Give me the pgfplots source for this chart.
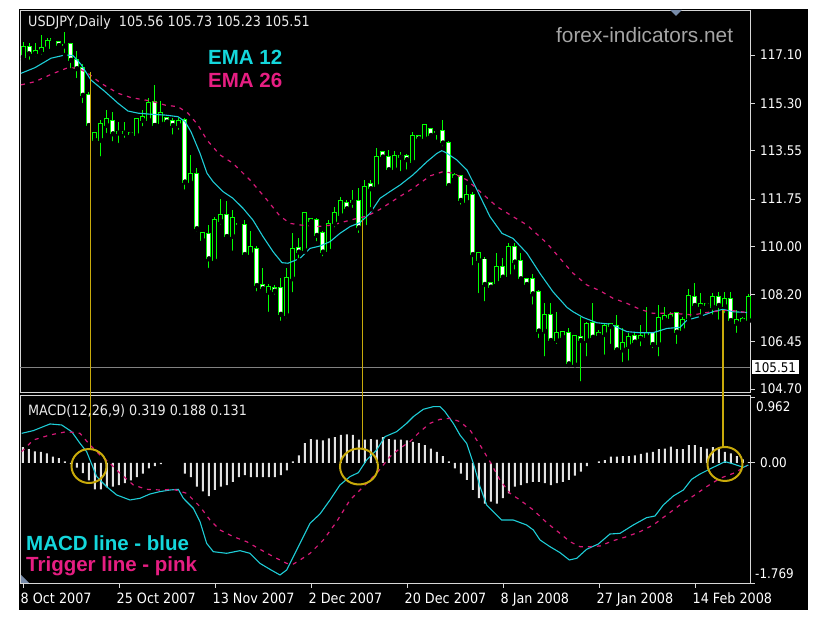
\documentclass[border=0pt]{standalone}
\usepackage{pgfplots}
\pgfplotsset{compat=1.18}
\usepackage{pgfplotstable}
\usepackage{fontspec}
\setmainfont{DejaVu Sans Condensed}
\newfontfamily\arialfont{Liberation Sans}
\newcommand\ticfont{\fontsize{13.3}{15}\selectfont}
\newcommand\capfont{\fontsize{14.2}{16}\selectfont}
\newcommand\bigfont{\arialfont\bfseries\fontsize{20.5}{24}\selectfont}

\definecolor{candle}{RGB}{0,255,0}
\definecolor{emacyan}{RGB}{30,205,215}
\definecolor{emapink}{RGB}{215,25,120}
\definecolor{txtcyan}{RGB}{20,215,220}
\definecolor{txtpink}{RGB}{230,30,130}
\definecolor{annot}{RGB}{200,170,10}
\definecolor{framegray}{RGB}{215,215,215}
\definecolor{histgray}{RGB}{225,225,225}
\definecolor{wmark}{RGB}{165,165,165}
\definecolor{pricegray}{RGB}{130,130,130}
\definecolor{markblue}{RGB}{120,140,170}

% daily candles: bar index, open, high, low, close
\pgfplotstableread{
i o h l c
0 117.04 117.60 116.92 117.41
1 117.41 117.53 116.85 117.16
2 117.16 117.53 116.98 117.25
3 117.25 117.84 117.04 117.35
4 117.35 117.72 117.22 117.62
5 117.67 117.70 117.66 117.68
6 117.57 117.59 117.45 117.47
7 117.45 117.97 117.10 117.47
8 117.51 117.53 116.54 116.92
9 116.92 117.25 116.17 116.61
10 116.63 116.75 115.24 115.62
11 115.62 115.74 114.44 114.50
12 113.95 114.22 113.93 114.19
13 113.95 114.69 113.26 114.53
14 114.50 115.06 114.13 114.72
15 114.65 115.00 113.82 114.19
16 114.22 114.63 113.76 114.24
17 114.24 114.63 113.95 114.22
18 114.22 114.25 114.07 114.16
19 114.13 114.77 114.07 114.72
20 114.69 115.06 114.38 114.81
21 114.69 115.52 114.63 115.31
22 115.37 115.99 114.50 114.50
23 114.56 115.39 114.38 114.94
24 114.75 114.81 114.56 114.63
25 114.65 114.77 114.07 114.50
26 114.50 114.75 114.25 114.65
27 114.69 114.75 112.03 112.40
28 112.37 113.39 112.21 112.67
29 112.67 112.89 110.48 110.67
30 110.23 110.54 110.17 110.48
31 110.46 110.79 109.12 109.55
32 109.47 111.10 109.43 110.98
33 110.94 111.74 110.73 111.16
34 111.16 111.69 110.23 110.38
35 110.38 111.35 109.76 111.06
36 110.82 110.88 110.78 110.84
37 110.79 110.97 109.55 109.71
38 109.71 110.58 109.55 109.96
39 109.89 110.01 108.25 108.56
40 108.56 109.18 108.28 108.44
41 108.31 108.60 107.49 108.50
42 108.46 108.56 108.13 108.35
43 108.44 108.83 107.16 107.49
44 107.45 109.18 107.26 108.83
45 108.81 110.50 108.22 109.89
46 109.92 110.30 109.49 109.80
47 109.86 111.25 109.80 111.22
48 111.00 111.04 110.77 110.94
49 110.98 111.04 110.11 110.42
50 110.48 110.58 109.55 109.80
51 109.84 110.97 109.76 110.83
52 110.85 111.44 110.63 111.22
53 111.16 111.82 111.04 111.69
54 111.62 111.72 111.35 111.41
55 111.65 112.09 111.35 111.69
56 111.69 112.15 110.42 110.70
57 110.73 112.46 110.63 112.21
58 112.31 112.46 111.37 112.15
59 112.24 113.63 112.21 113.30
60 113.51 113.54 113.28 113.33
61 113.30 113.57 112.81 112.86
62 112.86 113.55 112.71 113.35
63 113.32 113.51 112.71 113.34
64 113.35 113.42 112.77 113.23
65 113.14 114.25 113.02 114.09
66 114.11 114.13 113.99 114.01
67 114.01 114.54 113.97 114.50
68 114.34 114.38 114.09 114.13
69 114.24 114.32 113.88 114.26
70 114.29 114.69 113.64 113.85
71 113.85 113.92 112.24 112.27
72 112.65 112.71 112.52 112.58
73 112.61 112.65 111.47 111.72
74 111.65 112.27 111.62 111.90
75 111.90 112.03 109.22 109.71
76 109.49 109.80 108.19 109.74
77 109.51 109.61 107.88 108.60
78 108.62 108.68 108.47 108.50
79 108.65 109.74 108.56 109.24
80 109.22 109.55 108.81 108.87
81 108.90 110.13 108.81 109.96
82 109.96 110.13 109.06 109.43
83 109.46 109.74 108.75 108.81
84 108.77 108.81 108.57 108.60
85 108.77 108.97 107.76 108.25
86 108.31 108.38 106.52 106.87
87 106.87 107.88 105.84 107.45
88 107.45 107.88 106.46 106.52
89 106.52 107.57 106.30 106.79
90 106.64 106.86 106.61 106.83
91 106.79 106.95 105.59 105.65
92 105.62 106.71 105.59 106.67
93 106.64 107.39 104.91 106.52
94 106.52 107.20 105.84 107.11
95 107.14 107.91 106.58 106.64
96 106.71 106.89 106.67 106.79
97 106.74 107.14 105.90 107.04
98 107.04 107.16 106.30 107.11
99 107.04 107.45 106.00 106.17
100 106.17 106.95 105.63 106.40
101 106.30 106.77 105.68 106.62
102 106.67 106.79 106.37 106.46
103 106.58 107.08 106.21 106.67
104 106.64 107.73 106.62 106.77
105 106.79 106.83 106.15 106.37
106 106.37 107.82 105.84 107.33
107 107.29 107.73 107.14 107.41
108 107.33 107.57 107.29 107.45
109 107.51 107.54 106.30 106.83
110 106.89 107.39 106.77 107.26
111 107.33 108.40 107.29 108.15
112 108.13 108.62 107.76 107.82
113 107.78 108.28 107.39 107.86
114 107.86 107.88 107.70 107.82
115 107.76 108.28 107.39 108.13
116 108.10 108.31 107.20 107.82
117 107.78 108.31 107.45 108.03
118 108.03 108.31 107.08 107.26
119 107.16 107.63 106.71 107.26
120 107.24 107.39 107.20 107.29
121 107.26 108.23 107.24 108.13
}\candles

\pgfplotstableread{
x y
-0.33 116.42
2.0 116.63
4.67 116.98
7.0 117.10
8.33 117.08
9.67 116.75
11.33 116.17
13.67 115.74
15.83 115.31
17.5 115.02
19.17 114.94
21.33 114.90
23.67 114.87
25.83 114.81
27.0 114.63
28.0 114.25
29.5 113.45
30.67 112.71
31.67 112.40
33.33 112.03
35.0 111.78
36.67 111.41
38.33 110.97
40.0 110.36
41.67 109.80
43.17 109.39
44.17 109.37
46.17 109.55
47.83 109.92
49.5 110.01
51.17 110.17
52.83 110.48
54.5 110.73
56.17 110.88
57.83 111.22
59.5 111.78
61.17 112.03
62.83 112.27
65.0 112.65
67.33 113.14
69.0 113.45
69.83 113.55
70.67 113.45
72.33 113.20
74.0 112.83
75.67 112.09
77.83 111.10
79.83 110.48
81.67 110.29
84.0 109.74
86.17 108.99
88.33 108.31
90.67 107.73
91.67 107.57
93.33 107.36
95.67 107.16
97.83 107.11
100.67 106.83
102.83 106.79
105.0 106.79
107.33 106.95
109.5 106.99
110.67 107.26
112.83 107.39
115.0 107.57
116.67 107.66
118.33 107.57
120.67 107.54
}\emaA

\pgfplotstableread{
x y
-0.33 115.99
2.0 116.11
4.67 116.38
7.5 116.63
9.17 116.61
10.83 116.42
13.0 116.05
15.83 115.68
18.0 115.52
21.33 115.39
23.67 115.24
25.83 115.18
27.5 114.94
29.17 114.50
30.67 113.94
32.83 113.39
35.0 113.08
37.83 112.46
40.67 111.72
42.83 111.12
44.5 110.85
46.17 110.79
49.0 110.73
51.67 110.79
54.5 110.97
57.33 111.12
59.5 111.37
62.33 111.78
65.0 112.15
67.83 112.61
70.0 112.77
71.67 112.71
74.0 112.46
76.17 112.03
79.0 111.47
81.67 111.10
84.0 110.79
87.33 110.11
90.67 109.25
91.67 109.00
94.0 108.56
96.17 108.35
98.33 108.07
100.67 107.88
102.83 107.66
105.0 107.51
107.33 107.51
109.5 107.49
111.67 107.45
114.0 107.54
116.17 107.61
118.33 107.61
120.67 107.54
}\emaB

\pgfplotstableread{
i v
0 0.23
1 0.20
2 0.17
3 0.16
4 0.14
5 0.09
6 0.07
7 0.02
8 -0.02
9 -0.07
10 -0.15
11 -0.26
12 -0.39
13 -0.39
14 -0.36
15 -0.35
16 -0.33
17 -0.30
18 -0.26
19 -0.21
20 -0.16
21 -0.08
22 -0.05
23 -0.02
27 -0.16
28 -0.21
29 -0.35
30 -0.42
31 -0.49
32 -0.40
33 -0.35
34 -0.33
35 -0.28
36 -0.21
37 -0.18
38 -0.21
39 -0.21
40 -0.21
41 -0.21
42 -0.21
43 -0.18
44 -0.11
45 0.02
46 0.11
47 0.29
48 0.35
49 0.34
50 0.33
51 0.36
52 0.38
53 0.41
54 0.42
55 0.41
56 0.34
57 0.34
58 0.35
59 0.34
60 0.38
61 0.35
62 0.34
63 0.34
64 0.33
65 0.31
66 0.29
67 0.26
68 0.21
69 0.16
70 0.10
71 0.02
72 -0.08
73 -0.16
74 -0.25
75 -0.40
76 -0.52
77 -0.60
78 -0.57
79 -0.60
80 -0.52
81 -0.45
82 -0.35
83 -0.33
84 -0.30
85 -0.28
86 -0.28
87 -0.30
88 -0.33
89 -0.30
90 -0.28
91 -0.25
92 -0.19
93 -0.13
94 -0.05
96 0.02
97 0.04
98 0.09
99 0.09
100 0.10
101 0.10
102 0.11
103 0.13
104 0.15
105 0.16
106 0.20
107 0.21
108 0.24
109 0.20
110 0.20
111 0.26
112 0.26
113 0.23
114 0.21
115 0.23
116 0.20
117 0.16
118 0.14
119 0.10
120 0.05
121 0.01
}\hist

\pgfplotstableread{
x y
-0.22 0.434
1.72 0.474
4.50 0.572
6.44 0.557
8.11 0.459
9.50 0.287
10.61 0.164
12.28 -0.203
13.94 -0.351
15.61 -0.473
17.83 -0.547
19.50 -0.522
21.17 -0.459
22.83 -0.424
24.50 -0.400
25.89 -0.390
26.72 -0.522
28.39 -0.670
29.50 -0.866
30.61 -1.185
31.72 -1.308
33.94 -1.332
36.17 -1.293
37.83 -1.332
39.50 -1.480
41.17 -1.568
42.83 -1.651
43.94 -1.578
45.06 -1.381
46.72 -1.087
47.83 -0.891
49.50 -0.753
51.17 -0.547
52.83 -0.326
54.50 -0.203
55.89 -0.145
57.28 0.042
58.94 0.189
60.33 0.385
62.28 0.459
63.94 0.581
65.06 0.680
66.72 0.788
68.39 0.827
69.50 0.827
70.33 0.753
71.72 0.581
72.83 0.410
73.94 0.287
75.06 -0.007
76.17 -0.351
77.28 -0.621
78.39 -0.719
79.78 -0.842
81.72 -0.842
83.94 -0.915
85.06 -0.989
86.17 -1.136
87.83 -1.234
89.50 -1.322
91.06 -1.430
92.28 -1.406
93.94 -1.273
95.89 -1.195
97.83 -1.048
99.50 -1.038
101.72 -0.915
103.94 -0.807
105.33 -0.783
106.72 -0.621
108.39 -0.488
110.06 -0.400
111.44 -0.243
112.83 -0.165
115.06 -0.066
117.00 0.017
118.39 -0.017
120.06 -0.066
120.89 -0.032
}\macd

\pgfplotstableread{
x y
-0.22 0.164
1.72 0.336
4.50 0.410
7.28 0.459
9.50 0.434
11.17 0.262
12.83 0.115
14.50 -0.007
16.17 -0.154
18.39 -0.326
20.61 -0.390
22.83 -0.400
25.06 -0.390
27.28 -0.449
29.50 -0.645
31.17 -0.842
32.83 -0.989
35.06 -1.087
37.28 -1.161
39.50 -1.273
41.72 -1.381
43.94 -1.480
45.06 -1.490
46.17 -1.431
47.83 -1.333
50.06 -1.136
52.28 -0.866
54.50 -0.547
56.72 -0.351
58.94 -0.155
61.17 0.091
62.83 0.214
64.50 0.312
66.17 0.459
67.83 0.581
69.50 0.640
71.17 0.655
72.83 0.606
74.50 0.483
76.17 0.263
77.83 0.017
79.50 -0.253
81.17 -0.449
82.83 -0.547
85.06 -0.694
87.28 -0.881
89.50 -1.038
91.17 -1.161
92.83 -1.234
94.50 -1.234
96.17 -1.224
98.39 -1.146
100.61 -1.087
102.83 -1.014
105.06 -0.915
107.28 -0.768
109.50 -0.621
111.72 -0.488
113.94 -0.351
116.17 -0.228
118.39 -0.155
120.61 -0.047
}\signal

\pgfplotsset{
  mtpanel/.style={
    scale only axis, anchor=south west, clip=false,
    width=730pt, xmin=-0.5, xmax=121.17,
    axis line style={framegray, line width=0.9pt},
    tick align=outside, major tick length=5pt,
    tick style={framegray, line width=0.9pt},
    ytick pos=right, yticklabel pos=right,
    yticklabel style={font=\ticfont, text=white, anchor=west, inner sep=0pt, xshift=5pt},
  },
  candlebar/.style 2 args={only marks, mark=none, forget plot,
    error bars/.cd, y dir=plus, y explicit, error mark=none,
    error bar style={draw=#1, line width=#2}},
}

\begin{document}
\begin{tikzpicture}[x=1pt, y=1pt]
\useasboundingbox (0,0) rectangle (836,624);
\fill[black] (19,14) rectangle (808,614.7);

% price panel
\begin{axis}[mtpanel, at={(20pt,232pt)}, height=382pt,
  ymin=104.59, ymax=118.77,
  xtick=\empty,
  ytick={104.70,106.45,108.20,110.00,111.75,113.55,115.30,117.10},
  yticklabels={104.70,106.45,108.20,110.00,111.75,113.55,115.30,117.10},
]
  \addplot[pricegray, line width=1.2pt, forget plot] coordinates {(-0.5,105.51) (121.17,105.51)};

  % wicks
  \addplot[candlebar={candle}{1pt}]
    table[x=i, y=l, y error plus expr=\thisrow{h}-\thisrow{l}] {\candles};
  % body outline
  \addplot[candlebar={candle}{5pt}]
    table[x=i, y expr={min(\thisrow{o},\thisrow{c})-0.035},
          y error plus expr={abs(\thisrow{c}-\thisrow{o})+0.07}] {\candles};
  % bear bodies (white)
  \addplot[restrict expr to domain={\thisrow{o}-\thisrow{c}}{0.001:100}, candlebar={white}{3pt}]
    table[x=i, y expr={min(\thisrow{o},\thisrow{c})},
          y error plus expr={abs(\thisrow{c}-\thisrow{o})}] {\candles};
  % bull bodies (black)
  \addplot[restrict expr to domain={\thisrow{c}-\thisrow{o}}{0.001:100}, candlebar={black}{3pt}]
    table[x=i, y expr={min(\thisrow{o},\thisrow{c})},
          y error plus expr={abs(\thisrow{c}-\thisrow{o})}] {\candles};

  \addplot[emacyan, line width=1.1pt, mark=none] table[x=x, y=y] {\emaA};
  \addplot[emapink, line width=1.2pt, mark=none, dash pattern=on 4pt off 5pt] table[x=x, y=y] {\emaB};

  \coordinate (t1) at (axis cs:11.25,116.48);
  \coordinate (t2) at (axis cs:56.58,110.98);
  \coordinate (t3) at (axis cs:116.72,107.63);
  \node[fill=white, text=black, font=\ticfont, inner xsep=2.5pt, inner ysep=2pt, anchor=west]
    at (axis cs:121.17,105.51) [xshift=1.5pt] {105.51};
\end{axis}

% MACD panel
\begin{axis}[mtpanel, at={(20pt,41pt)}, height=187.5pt,
  ymin=-1.769, ymax=0.991,
  xtick={0,16,32,48,64,80,96,112},
  xticklabels={8 Oct 2007, 25 Oct 2007, 13 Nov 2007, 2 Dec 2007, 20 Dec 2007, 8 Jan 2008, 27 Jan 2008, 14 Feb 2008},
  xtick pos=bottom, xticklabel pos=bottom,
  xticklabel style={font=\capfont, text=white, anchor=north west, inner sep=0pt, xshift=-2.5pt, yshift=-5pt},
  ytick={-1.769,0,0.962},
  yticklabels={,0.00,},
]
  \addplot[ybar, bar width=2pt, fill=histgray, draw=none] table[x=i, y=v] {\hist};
  \addplot[emacyan, line width=1.1pt, mark=none] table[x=x, y=y] {\macd};
  \addplot[emapink, line width=1.2pt, mark=none, dash pattern=on 4pt off 5pt] table[x=x, y=y] {\signal};

  \coordinate (b1) at (axis cs:11.25,0.218);
  \coordinate (b2) at (axis cs:56.58,0.218);
  \coordinate (b3) at (axis cs:116.72,0.218);
  \draw[annot, line width=2pt] (axis cs:11,-0.047) ellipse [x radius=17.5pt, y radius=17pt];
  \draw[annot, line width=2pt] (axis cs:56,-0.054) ellipse [x radius=19pt, y radius=18pt];
  \draw[annot, line width=2pt] (axis cs:117,-0.017) ellipse [x radius=17.5pt, y radius=17pt];
\end{axis}

\draw[annot, line width=1.8pt] (t1) -- (b1);
\draw[annot, line width=1.8pt] (t2) -- (b2);
\draw[annot, line width=1.8pt] (t3) -- (b3);

\fill[markblue] (670,614) -- (682,614) -- (676,608) -- cycle;
\fill[markblue] (21,41) -- (29,41) -- (21,49) -- cycle;

% MACD scale extremes, set inside the panel edges as the terminal does
\node[anchor=west, inner sep=0pt, text=white, font=\ticfont] at (756,217) {0.962};
\node[anchor=west, inner sep=0pt, text=white, font=\ticfont] at (755,50) {-1.769};

\node[anchor=west, inner sep=0pt, text=white!92!black, font=\capfont] at (28,601)
  {USDJPY,Daily\ \ 105.56 105.73 105.23 105.51};
\node[anchor=west, inner sep=0pt, text=wmark, font=\arialfont\fontsize{20.8}{24}\selectfont] at (556,589)
  {forex-indicators.net};
\node[anchor=west, inner sep=0pt, text=txtcyan, font=\bigfont] at (208,567) {EMA 12};
\node[anchor=west, inner sep=0pt, text=txtpink, font=\bigfont] at (208,543.5) {EMA 26};
\node[anchor=west, inner sep=0pt, text=white!92!black, font=\capfont] at (28,213)
  {MACD(12,26,9) 0.319 0.188 0.131};
\node[anchor=west, inner sep=0pt, text=txtcyan, font=\bigfont] at (26,81) {MACD line - blue};
\node[anchor=west, inner sep=0pt, text=txtpink, font=\bigfont] at (26,57.5) {Trigger line - pink};
\end{tikzpicture}
\end{document}
